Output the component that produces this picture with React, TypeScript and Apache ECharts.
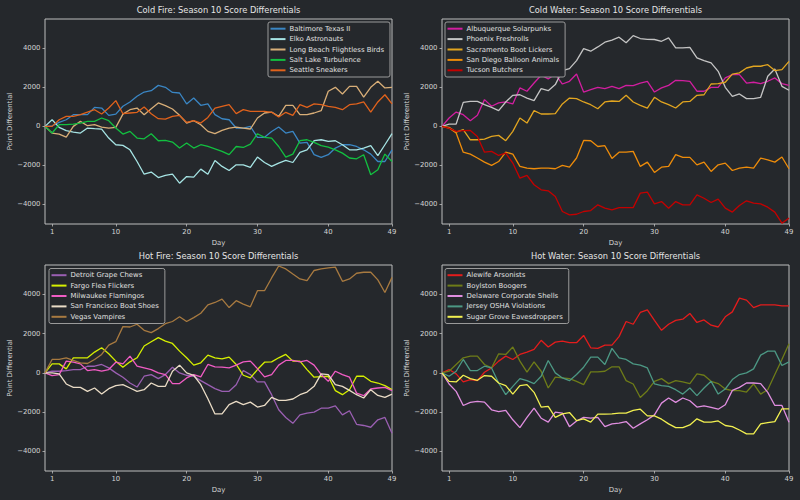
import React, { useEffect, useRef } from "react";
import * as echarts from "echarts";

// ---------- data (days 0..49) ----------
const DAYS = Array.from({ length: 50 }, (_, i) => i);
const X_TICKS = [1, 10, 20, 30, 40, 49];
const Y_TICKS = [-4000, -2000, 0, 2000, 4000];

const TITLES = [
  "Cold Fire: Season 10 Score Differentials",
  "Cold Water: Season 10 Score Differentials",
  "Hot Fire: Season 10 Score Differentials",
  "Hot Water: Season 10 Score Differentials",
];

// Cold Fire
const BALTIMORE = [0,30,205,340,600,600,600,975,940,565, 630,1030,1250,1540,1760,1830,2100,2000,1740,1710, 1150,1450,1080,1150,600, 390,340,-85,-85,0, -560,-560,-260,-35,-340, -260,-855,-820,-1450,-1590, -1450,-1110,-940,-940,-1030, -1200,-1420,-1800,-1800,-1200];
const ELKO = [0,340,-50,-220,-290,-340,-85,-120,-140,-600, -940,-975,-1200,-1800,-2450,-2340,-2620,-2510,-2450,-2910, -2570,-2600,-2190,-2450,-1750, -2050,-2260,-1970,-1970,-2100, -1570,-1850,-2050,-1880,-1740, -1850,-1330,-1200,-735,-685, -770,-735,-940,-1200,-1200, -1110,-990,-1500,-940,-375];
const LONG_BEACH = [0,-340,-395,-550,0,255,35,85,-35,-85, -50,630,855,940,600,905,1200,1060,890,565, 170,290,85,-255,-375, -205,-85,-35,-85,-135, 430,685,735,515,1080, 1080,600,600,685,805, 1800,2000,1660,2050,2050, 1500,2000,2310,1970,2000];
const SALT_LAKE = [0,-340,85,85,120,170,255,255,430,290, -85,-395,-255,-600,-635,-375,-735,-720,-805,-1110, -855,-1110,-940,-1030,-1150, -1280,-1450,-1030,-1080,-905, -375,-565,-600,-1030,-1570, -1420,-735,-685,-820,-990, -1060,-1200,-1370,-1620,-1660, -1450,-2480,-2220,-1420,-1800];
const SEATTLE = [0,0,340,515,515,600,735,855,635,940, 1320,650,685,720,990,650,395,375,515,565, 205,290,170,460,940, 1030,1110,650,855,770, 770,770,720,480,720, 565,1110,975,1150,1110, 1030,975,855,1110,1150, 1250,735,1250,1620,1150];

// Cold Water
const ALBUQUERQUE = [0,430,735,600,290,565,1370,1030,1200,1250, 1150,1970,1800,2220,2620,2430,2680,2170,2310,2680, 1760,1880,2000,1930,2050, 1930,2100,2090,2220,2310, 1760,1970,2100,2360,2340, 2310,1800,1800,2000,2000, 2480,2650,2650,2220,2260, 2190,2310,2480,2190,2100];
const PHOENIX = [0,120,120,1230,1280,1280,1110,975,805,1250, 1590,1620,1450,1320,1930,1830,2140,2860,2960,3370, 3980,3850,4070,4310,4420, 4570,4280,4650,4500,4460, 4450,4360,4530,4020,4020, 4050,3510,3370,3250,2820, 2000,1540,1660,1420,1420, 1490,2570,2940,2050,1850];
const SACRAMENTO = [0,-50,-290,-170,-685,-685,-650,-515,-460,-735, -255,430,170,805,635,635,650,1150,1450,1420, 1250,1110,905,1250,1300, 1280,1590,1250,1080,940, 1490,1250,1110,940,1250, 1280,1590,1620,2170,2190, 2260,2680,2740,2990,3080, 3080,3160,2860,2910,3330];
const SAN_DIEGO = [0,-85,-340,-1320,-1420,-1620,-1830,-2000,-1800,-1320, -1420,-2050,-2140,-2170,-2140,-2140,-2170,-2000,-2090,-1620, -720,-735,-1030,-990,-1640, -1320,-1320,-1280,-2050,-1830, -2360,-2090,-2050,-1450,-1590, -1590,-1970,-1830,-2310,-1970, -1880,-2260,-2140,-2090,-2140, -1620,-1710,-1830,-1570,-2170];
const TUCSON = [0,-85,-255,-220,-205,-515,-1320,-1280,-1490,-1370, -1880,-2650,-2510,-2990,-3250,-3300,-3590,-4360,-4530,-4500, -4360,-4310,-4020,-4190,-4280, -4160,-4160,-4160,-3420,-3370, -3970,-3850,-4190,-3850,-4020, -4020,-3510,-3680,-3900,-3730, -4190,-4390,-4050,-3810,-3930, -3970,-4140,-4390,-4960,-4700];

// Hot Fire
const DETROIT = [0,85,85,120,170,170,340,340,430,255, 0,-220,-515,-720,-170,-85,-290,-85,290,0, -120,-170,-395,-600,-800, -940,-940,-600,120,-85, -460,-460,-1110,-1880,-2270, -2570,-2140,-2050,-2000,-1800, -1800,-1680,-2140,-1930,-2620, -2680,-2770,-2390,-2270,-3080];
const FARGO = [0,460,460,205,770,770,770,1060,1280,975, 600,290,565,770,1370,1590,1800,1620,1500,1110, 770,395,515,905,770, 720,805,430,-120,-255, 170,545,565,770,940, 600,600,170,-220,-190, -170,-905,-1110,-855,-170, -170,-430,-515,-650,-855];
const MILWAUKEE = [0,-135,-85,600,545,460,120,170,85,170, 545,460,855,340,255,170,0,-85,-545,-545, -255,-85,-205,430,310, 290,255,395,565,600, 220,-205,-85,395,635, 635,565,635,395,-85, -430,85,-85,-220,-1030, -1160,-820,-770,-735,-905];
const SAN_FRANCISCO = [0,0,-50,-565,-735,-735,-940,-770,-1080,-805, -650,-600,-770,-940,-855,-515,-685,-685,85,395, 0,-120,-600,-1320,-2090, -2090,-1620,-1450,-1620,-1490, -1740,-1660,-1250,-1400,-1400, -1330,-1110,-975,-685,-50, -85,-600,-685,-890,-1110, -1280,-855,-1150,-1250,-1080];
const VEGAS = [0,685,685,770,635,515,480,685,940,1420, 1590,2360,2340,2480,2170,2050,2260,2510,2620,2860, 2620,2820,3040,3470,3590, 3760,3330,3680,3510,3370, 4190,4190,4840,5450,5300, 5040,4790,4700,5220,5300, 5350,5390,4670,4790,5080, 5130,5130,4740,4100,4870];

// Hot Water
const ALEWIFE = [0,170,-50,-460,-340,-395,35,255,600,855, 685,940,1060,1200,1660,1320,1570,1620,1540,1540, 1910,1280,1250,1420,1420, 1850,2620,2480,3080,3210, 2680,2170,2480,2680,2740, 3030,2570,2700,2430,2340, 2860,3110,3810,3710,3330, 3470,3470,3470,3420,3420];
const BOYLSTON = [0,85,430,770,855,855,430,255,975,940, 1320,600,35,565,85,-770,-220,-255,-290,-430, -600,50,50,85,310, 310,-395,-565,-1250,-905, -430,-290,-545,-395,-460, -545,-50,-120,-430,-545, -820,-905,-905,-975,-565, -1080,-855,-85,685,1490];
const DELAWARE = [0,-565,-940,-1660,-1500,-1450,-1490,-1880,-1970,-1910, -2390,-2790,-2270,-1800,-2310,-2510,-2000,-2050,-2740,-2450, -2270,-2310,-2270,-2740,-2600, -2560,-2480,-2820,-2600,-2390, -2140,-1540,-1280,-1500,-1280, -1420,-1740,-1680,-1760,-1850, -1620,-890,-735,-515,-515, -545,-990,-1660,-1660,-2510];
const JERSEY = [0,-170,85,685,120,120,340,255,-515,-1110, -685,-290,-395,-545,-170,635,0,-255,-395,-85, 290,805,805,430,1250, 770,685,460,395,255, -565,-650,-685,-855,-1080, -770,-1160,-770,-430,-1080, -820,-340,-85,0,205, 905,1110,1110,375,565];
const SUGAR_GROVE = [0,-430,-460,-120,-290,-375,-135,-170,-515,-650, -1080,-650,-600,-990,-1740,-1710,-2270,-2090,-2020,-2430, -2340,-2510,-2100,-2100,-2090, -2050,-2050,-1910,-1850,-2190, -2190,-2360,-2600,-2790,-2790, -2650,-2340,-2510,-2510,-2450, -2680,-2740,-2910,-3110,-3110, -2600,-2530,-2480,-1830,-1830];

const PANELS = [
  { title: TITLES[0], series: [
    { name: "Baltimore Texas II", color: "#3a86c4", values: BALTIMORE },
    { name: "Elko Astronauts", color: "#a6e4e4", values: ELKO },
    { name: "Long Beach Flightless Birds", color: "#d8ae78", values: LONG_BEACH },
    { name: "Salt Lake Turbulence", color: "#12c040", values: SALT_LAKE },
    { name: "Seattle Sneakers", color: "#e0621c", values: SEATTLE },
  ]},
  { title: TITLES[1], series: [
    { name: "Albuquerque Solarpunks", color: "#d21ea0", values: ALBUQUERQUE },
    { name: "Phoenix Freshrolls", color: "#c4c4c4", values: PHOENIX },
    { name: "Sacramento Boot Lickers", color: "#e2a520", values: SACRAMENTO },
    { name: "San Diego Balloon Animals", color: "#ee8c0a", values: SAN_DIEGO },
    { name: "Tucson Butchers", color: "#c40000", values: TUCSON },
  ]},
  { title: TITLES[2], series: [
    { name: "Detroit Grape Chews", color: "#9a5fb2", values: DETROIT },
    { name: "Fargo Flea Flickers", color: "#d6f000", values: FARGO },
    { name: "Milwaukee Flamingos", color: "#f05cc4", values: MILWAUKEE },
    { name: "San Francisco Boat Shoes", color: "#eadcc6", values: SAN_FRANCISCO },
    { name: "Vegas Vampires", color: "#a87a40", values: VEGAS },
  ]},
  { title: TITLES[3], series: [
    { name: "Alewife Arsonists", color: "#e41c1c", values: ALEWIFE },
    { name: "Boylston Boogers", color: "#6e7c18", values: BOYLSTON },
    { name: "Delaware Corporate Shells", color: "#e08ee0", values: DELAWARE },
    { name: "Jersey OSHA Violations", color: "#4c9884", values: JERSEY },
    { name: "Sugar Grove Eavesdroppers", color: "#f2f050", values: SUGAR_GROVE },
  ]},
];

// ---------- layout ----------
const GRIDS = [
  { left: 45, top: 19, width: 347, height: 205 },
  { left: 442, top: 19, width: 347, height: 205 },
  { left: 45, top: 265, width: 347, height: 206 },
  { left: 442, top: 265, width: 347, height: 206 },
];
const LEGEND_POS = [
  { left: 268, top: 22 },
  { left: 445, top: 22 },
  { left: 49, top: 268.5 },
  { left: 445, top: 268.5 },
];

const BG = "#25282c";
const FONT = "DejaVu Sans";
const TEXT = "#d4d4d4";
const BORDER = "#bdbdbd";

function fmt(v: number) {
  return v < 0 ? "\u2212" + Math.abs(v) : String(v);
}

export default function App() {
  const ref = useRef<HTMLDivElement>(null);
  useEffect(() => {
    if (!ref.current) return;
    const chart = echarts.init(ref.current, null, { renderer: "svg" });
    const grid: any[] = [];
    const xAxis: any[] = [];
    const yAxis: any[] = [];
    const title: any[] = [];
    const legend: any[] = [];
    const series: any[] = [];
    PANELS.forEach((p, i) => {
      const g = GRIDS[i];
      grid.push({ ...g, show: true, borderColor: BORDER, borderWidth: 1, backgroundColor: BG, containLabel: false });
      title.push({
        text: p.title,
        left: g.left + g.width / 2,
        top: g.top - 13,
        textAlign: "center",
        padding: 0,
        textStyle: { color: "#e4e4e4", fontFamily: FONT, fontSize: 8.3, fontWeight: "normal" },
      });
      xAxis.push({
        type: "value", gridIndex: i, min: 0, max: 49,
        name: "Day", nameLocation: "middle", nameGap: 15,
        nameTextStyle: { color: TEXT, fontFamily: FONT, fontSize: 6.9 },
        axisLine: { show: false, onZero: false },
        axisTick: { show: true, inside: false, length: 2.5, lineStyle: { color: BORDER, width: 0.8 }, customValues: X_TICKS },
        axisLabel: { color: TEXT, fontFamily: FONT, fontSize: 6.9, margin: 4, customValues: X_TICKS, showMinLabel: true, showMaxLabel: true },
        splitLine: { show: false },
      });
      yAxis.push({
        type: "value", gridIndex: i, min: -5000, max: 5500,
        name: "Point Differential", nameLocation: "middle", nameGap: 28, nameRotate: 90,
        nameTextStyle: { color: TEXT, fontFamily: FONT, fontSize: 6.9 },
        axisLine: { show: false, onZero: false },
        axisTick: { show: true, inside: false, length: 2.5, lineStyle: { color: BORDER, width: 0.8 }, customValues: Y_TICKS },
        axisLabel: { color: TEXT, fontFamily: FONT, fontSize: 6.9, margin: 4.5, customValues: Y_TICKS, formatter: (v: number) => fmt(v) },
        splitLine: { show: false },
      });
      legend.push({
        ...LEGEND_POS[i],
        orient: "vertical",
        data: p.series.map((s) => s.name),
        selectedMode: false,
        icon: "rect",
        itemWidth: 15,
        itemHeight: 2,
        itemGap: 0,
        padding: [1.5, 6, 1.5, 2.5],
        backgroundColor: BG,
        borderColor: "#9a9a9a",
        borderWidth: 1,
        borderRadius: 2,
        textStyle: { color: "#e0e0e0", fontFamily: FONT, fontSize: 6.9, lineHeight: 10.4, padding: [0, 0, 0, -1] },
      });
      p.series.forEach((s) => {
        series.push({
          type: "line",
          name: s.name,
          xAxisIndex: i,
          yAxisIndex: i,
          showSymbol: false,
          symbol: "none",
          data: DAYS.map((d, k) => [d, s.values[k]]),
          lineStyle: { color: s.color, width: 1.3 },
          itemStyle: { color: s.color },
          emphasis: { disabled: true },
        });
      });
    });
    chart.setOption({
      animation: false,
      backgroundColor: BG,
      textStyle: { fontFamily: FONT },
      title, grid, xAxis, yAxis, legend, series,
    });
    return () => chart.dispose();
  }, []);
  return (
    <div
      ref={ref}
      style={{ position: "fixed", left: 0, top: 0, width: 800, height: 500, background: BG }}
    />
  );
}
